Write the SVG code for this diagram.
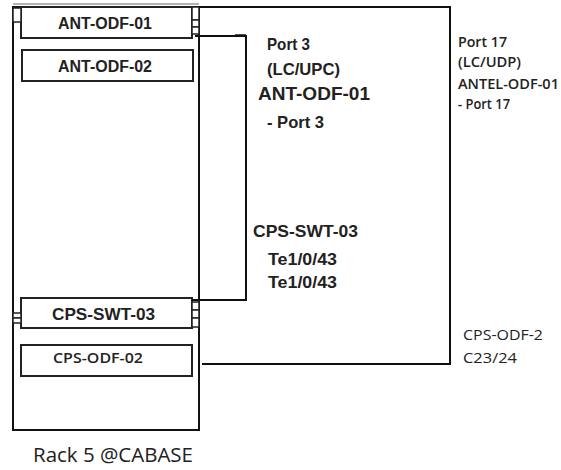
<svg xmlns="http://www.w3.org/2000/svg" width="561" height="470" viewBox="0 0 561 470">
<style>
.ln{fill:none;stroke:#111;stroke-width:2}
.bx{fill:#fff;stroke:#222;stroke-width:2}
.pt{fill:#fff;stroke:#222;stroke-width:1.5}
.b{font-family:"Liberation Sans",Arial,sans-serif;font-weight:bold;fill:#222}
.r{font-family:"Open Sans","Liberation Sans",sans-serif;fill:#222}
</style>
<rect width="561" height="470" fill="#fff"/>
<g id="rack">
<line x1="13" y1="4" x2="199" y2="4" stroke="#999" stroke-width="1.5"/>
<rect x="13" y="7" width="186" height="423" class="ln"/>
</g>
<g id="ant-odf-01">
<rect x="21" y="7" width="171" height="31" class="bx"/>
<rect x="13" y="8" width="8" height="14" class="pt"/>
<rect x="192" y="7" width="7" height="13" class="pt"/>
<rect x="192" y="20" width="7" height="7" class="pt"/>
<rect x="192" y="27" width="7" height="7" class="pt"/>
<text x="58" y="29" class="b" font-size="16" textLength="94" lengthAdjust="spacingAndGlyphs">ANT-ODF-01</text>
</g>
<g id="ant-odf-02">
<rect x="22" y="50" width="171" height="31" class="bx"/>
<text x="58" y="72" class="b" font-size="16" textLength="94" lengthAdjust="spacingAndGlyphs">ANT-ODF-02</text>
</g>
<g id="cps-swt-03">
<rect x="21" y="298" width="171" height="30" class="bx"/>
<rect x="13" y="313" width="8" height="5" class="pt"/>
<rect x="13" y="318" width="8" height="5" class="pt"/>
<rect x="192" y="302" width="7" height="8" class="pt"/>
<rect x="192" y="310" width="7" height="8" class="pt"/>
<rect x="192" y="318" width="7" height="9" class="pt"/>
<text x="52" y="320" class="b" font-size="17" textLength="103" lengthAdjust="spacingAndGlyphs">CPS-SWT-03</text>
</g>
<g id="cps-odf-02">
<rect x="21" y="345" width="171" height="31" class="bx"/>
<text x="53" y="363" class="r" font-size="15" font-weight="600" textLength="90" lengthAdjust="spacingAndGlyphs">CPS-ODF-02</text>
</g>
<g id="connectors">
<polyline points="199,7 450,7 450,364 202,364" class="ln"/>
<polyline points="195,36 246,36 246,300 192,300" class="ln"/>
<line x1="235" y1="35" x2="246" y2="35" stroke="#111" stroke-width="1.5"/>
</g>
<g id="labels">
<text x="267" y="50" class="b" font-size="17" textLength="43" lengthAdjust="spacingAndGlyphs">Port 3</text>
<text x="267" y="75" class="b" font-size="17" textLength="73" lengthAdjust="spacingAndGlyphs">(LC/UPC)</text>
<text x="258" y="100" class="b" font-size="18" textLength="112" lengthAdjust="spacingAndGlyphs">ANT-ODF-01</text>
<text x="267" y="128" class="b" font-size="17" textLength="57" lengthAdjust="spacingAndGlyphs">- Port 3</text>
<text x="458" y="47" class="r" font-size="14.5" font-weight="600" textLength="49" lengthAdjust="spacingAndGlyphs">Port 17</text>
<text x="458" y="67" class="r" font-size="14.5" font-weight="600" textLength="63" lengthAdjust="spacingAndGlyphs">(LC/UDP)</text>
<text x="458" y="89" class="r" font-size="14.5" font-weight="600" textLength="101" lengthAdjust="spacingAndGlyphs">ANTEL-ODF-01</text>
<text x="458" y="109" class="r" font-size="14.5" font-weight="600" textLength="52" lengthAdjust="spacingAndGlyphs">- Port 17</text>
<text x="253" y="237" class="b" font-size="17" textLength="105" lengthAdjust="spacingAndGlyphs">CPS-SWT-03</text>
<text x="268" y="265" class="b" font-size="17" textLength="69" lengthAdjust="spacingAndGlyphs">Te1/0/43</text>
<text x="268" y="288" class="b" font-size="17" textLength="69" lengthAdjust="spacingAndGlyphs">Te1/0/43</text>
<text x="463" y="340" class="r" font-size="15" textLength="80" lengthAdjust="spacingAndGlyphs">CPS-ODF-2</text>
<text x="463" y="363" class="r" font-size="15" textLength="54" lengthAdjust="spacingAndGlyphs">C23/24</text>
<text x="33" y="462" class="r" font-size="20" textLength="160" lengthAdjust="spacingAndGlyphs">Rack 5 @CABASE</text>
</g>
</svg>
